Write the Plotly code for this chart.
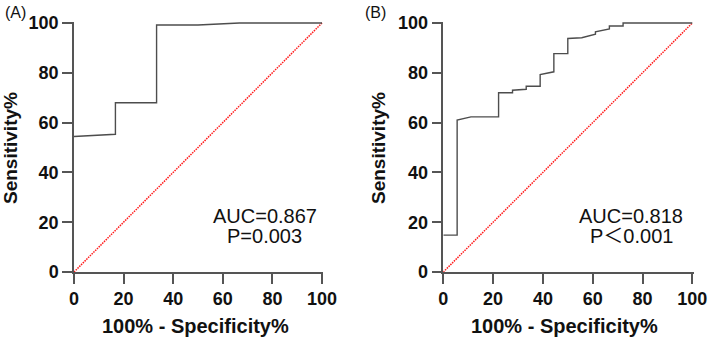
import plotly.graph_objects as go

# Panel A ROC curve (100% - Specificity%, Sensitivity%)
a_fpr = [0, 16.7, 16.7, 33.3, 33.3, 50.0, 66.7, 100]
a_sens = [54.4, 55.3, 68.0, 68.0, 99.2, 99.2, 100, 100]

# Panel B ROC curve
b_fpr = [0, 5.56, 5.56, 11.1, 22.2, 22.2, 27.8, 27.8, 33.3, 33.3, 38.9, 38.9, 44.4, 44.4,
         50.0, 50.0, 55.6, 61.1, 61.1, 66.7, 66.7, 72.2, 72.2, 100]
b_sens = [14.8, 14.8, 61.0, 62.3, 62.3, 72.0, 72.0, 73.0, 73.4, 74.6, 74.6, 79.3, 80.4, 87.7,
          87.7, 93.8, 94.1, 95.5, 96.5, 97.6, 98.8, 98.8, 100, 100]

ref_line = [0, 100]
tick_vals = [0, 20, 40, 60, 80, 100]
tick_text = ["0", "20", "40", "60", "80", "100"]

panel_labels = ["(A)", "(B)"]
auc_text = ["AUC=0.867", "AUC=0.818"]
p_text = ["P=0.003", "P＜0.001"]
x_title = "100% - Specificity%"
y_title = "Sensitivity%"

W, H = 709, 338
FONT = "Liberation Sans, Arial, Noto Sans CJK SC, sans-serif"

fig = go.Figure()

curves = [(a_fpr, a_sens), (b_fpr, b_sens)]
for i, (fx, fy) in enumerate(curves):
    ax = "x" if i == 0 else "x2"
    ay = "y" if i == 0 else "y2"
    fig.add_trace(go.Scatter(x=ref_line, y=ref_line, mode="lines", xaxis=ax, yaxis=ay,
                             line=dict(color="#ff1a1a", width=1.5, dash="1.5px,1px"),
                             showlegend=False, hoverinfo="skip"))
    fig.add_trace(go.Scatter(x=fx, y=fy, mode="lines", xaxis=ax, yaxis=ay,
                             line=dict(color="#4d4d4d", width=1.4),
                             showlegend=False, hoverinfo="skip"))

# pixel geometry
y_bottom_px = 272
y_scale = 2.49
yr = [0, 100.6]
y_dom = [(H - y_bottom_px) / H, (H - (y_bottom_px - yr[1] * y_scale)) / H]

xa = dict(left=74, scale=2.48)
xb = dict(left=443.3, scale=2.49)
xr = [0, 100.5]

def xdom(g):
    return [g["left"] / W, (g["left"] + xr[1] * g["scale"]) / W]

axis_common = dict(
    range=xr, tickvals=tick_vals, ticktext=tick_text, showgrid=False, zeroline=False,
    showline=True, linecolor="#555555", linewidth=1.5, ticks="outside", ticklen=10,
    tickwidth=1.5, tickcolor="#555555", automargin=False,
    tickfont=dict(family=FONT, size=18, color="#111111", weight="bold"),
)
yaxis_common = dict(axis_common)
yaxis_common["range"] = yr

fig.update_layout(
    width=W, height=H, margin=dict(l=0, r=0, t=0, b=0, autoexpand=False),
    paper_bgcolor="white", plot_bgcolor="white",
    xaxis=dict(axis_common, domain=xdom(xa), anchor="y"),
    yaxis=dict(yaxis_common, domain=y_dom, anchor="x"),
    xaxis2=dict(axis_common, domain=xdom(xb), anchor="y2"),
    yaxis2=dict(yaxis_common, domain=y_dom, anchor="x2"),
)

anns = []
geo = [xa, xb]
for i in range(2):
    g = geo[i]
    xref = "x" if i == 0 else "x2"
    yref = "y" if i == 0 else "y2"
    # panel label
    anns.append(dict(text=panel_labels[i], xref="paper", yref="paper",
                     x=(3 + i * 360) / W, y=1 - 2 / H, xanchor="left", yanchor="top",
                     showarrow=False, font=dict(family=FONT, size=16, color="#111111")))
    # AUC text
    anns.append(dict(text=auc_text[i], xref=xref, yref=yref, x=77.0 if i == 0 else 75.4, y=22.5,
                     xanchor="center", yanchor="middle", showarrow=False,
                     font=dict(family=FONT, size=20, color="#111111")))
    anns.append(dict(text=p_text[i], xref=xref, yref=yref, x=77.0 if i == 0 else 75.4, y=14.5,
                     xanchor="center", yanchor="middle", showarrow=False,
                     font=dict(family=FONT, size=20, color="#111111")))
    # x title
    cx = g["left"] + 50 * g["scale"] - 3
    anns.append(dict(text=x_title, xref="paper", yref="paper", x=cx / W, y=1 - 326 / H,
                     xanchor="center", yanchor="middle", showarrow=False,
                     font=dict(family=FONT, size=20, color="#111111", weight="bold")))
    # y title
    anns.append(dict(text=y_title, xref="paper", yref="paper", x=(10 + i * 368) / W, y=1 - 148 / H,
                     xanchor="center", yanchor="middle", showarrow=False, textangle=-90,
                     font=dict(family=FONT, size=19, color="#111111", weight="bold")))

fig.update_layout(annotations=anns)
fig.write_html("out.html", config={"displayModeBar": False},
               post_script="document.body.style.margin='0';document.body.style.overflow='hidden';")
